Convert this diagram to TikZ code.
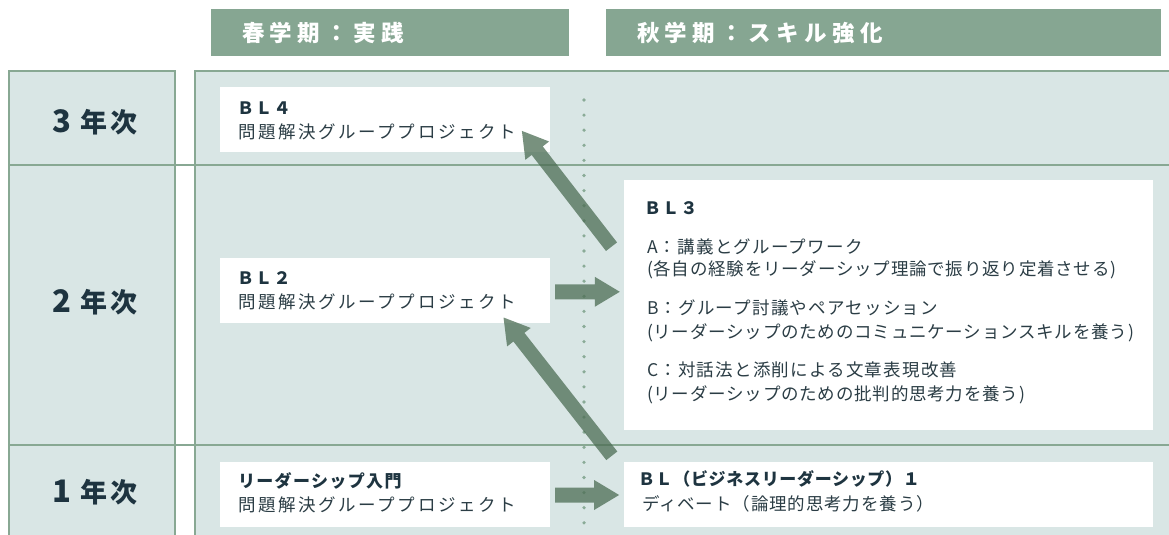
\documentclass[tikz,border=0pt]{standalone}
\usepackage{fontspec}
\newfontfamily\jpls[LetterSpace=15]{Noto Sans CJK JP}
\newfontfamily\jplm[LetterSpace=7]{Noto Sans CJK JP}
\newfontfamily\jplp[LetterSpace=4.5]{Noto Sans CJK JP}
\newfontfamily\jplq[LetterSpace=5]{Noto Sans CJK JP}
\newfontfamily\jphd[LetterSpace=24]{Noto Sans CJK JP}
\newfontfamily\jpyr[LetterSpace=12]{Noto Sans CJK JP}
\newfontfamily\jpti[LetterSpace=8]{Noto Sans CJK JP}
\newfontfamily\jptj[LetterSpace=4]{Noto Sans CJK JP}
\usetikzlibrary{calc}
\definecolor{hdrc}{HTML}{86A692}
\definecolor{gridc}{HTML}{88A893}
\definecolor{bgc}{HTML}{D9E6E5}
\definecolor{txtc}{HTML}{1E3440}
\definecolor{bodyc}{HTML}{2B3D45}
\definecolor{arrc}{HTML}{4C6D54}
\definecolor{dotc}{HTML}{8AAB97}
% fat block arrow: start, end, half shaft width, name prefix
\newcommand\fatarrow[4]{%
  \coordinate (#4h) at ($(#2)!25pt!(#1)$);
  \fill[arrowfill] ($(#1)!#3!90:(#2)$) -- ($(#4h)!#3!90:(#2)$) -- ($(#4h)!15pt!90:(#2)$) -- (#2)
    -- ($(#4h)!15pt!-90:(#2)$) -- ($(#4h)!#3!-90:(#2)$) -- ($(#1)!#3!-90:(#2)$) -- cycle;}
\begin{document}
\begin{tikzpicture}[x=1pt,y=-1pt,
  hdrbox/.style={fill=hdrc, draw=none, inner sep=0pt},
  hdrtext/.style={anchor=west, inner sep=0pt, text=white, font={\jphd\bfseries\fontsize{22.5}{25}\selectfont}},
  gridline/.style={draw=gridc, line width=2pt},
  yeartext/.style={inner sep=0pt, text=txtc, font={\jpyr\bfseries\fontsize{27}{30}\selectfont}},
  card/.style={fill=white, draw=none, inner sep=0pt},
  titletext/.style={anchor=west, inner sep=0pt, text=txtc, font={\jpti\bfseries\fontsize{17}{20}\selectfont}},
  titletextR/.style={anchor=west, inner sep=0pt, text=txtc, font={\jptj\bfseries\fontsize{17}{20}\selectfont}},
  bodyL/.style={anchor=west, inner sep=0pt, text=bodyc, font={\jpls\fontsize{17.5}{20}\selectfont}},
  bodyR/.style={anchor=west, inner sep=0pt, text=bodyc, font={\jplm\fontsize{17.5}{20}\selectfont}},
  bodyP/.style={anchor=west, inner sep=0pt, text=bodyc, font={\jplp\fontsize{17.5}{20}\selectfont}},
  bodyQ/.style={anchor=west, inner sep=0pt, text=bodyc, font={\jplq\fontsize{17.5}{20}\selectfont}},
  arrowfill/.style={fill=arrc, fill opacity=0.75, draw=none},
]
\clip (0,0) rectangle (1169,535);
\useasboundingbox (0,0) rectangle (1169,535);
\fill[white] (0,0) rectangle (1169,535);

% headers
\node[hdrbox, minimum width=358pt, minimum height=47pt] (h1) at (390,32.5) {};
\node[hdrbox, minimum width=555pt, minimum height=47pt] (h2) at (883.5,32.5) {};
\node[hdrtext] (h1t) at ($(h1.west)+(31,0)$) {春学期：実践};
\node[hdrtext] (h2t) at ($(h2.west)+(31,0)$) {秋学期：スキル強化};

% grid background
\fill[bgc] (9,71) rectangle (175,540);
\fill[bgc] (195,71) rectangle (1175,540);
\draw[gridline] (9,540) -- (9,71) -- (175,71) -- (175,540);
\draw[gridline] (195,540) -- (195,71) -- (1175,71);
\draw[gridline] (8,165) -- (1175,165);
\draw[gridline] (8,445) -- (1175,445);

% year labels
\node[yeartext] (y3) at (95,122) {{\fontsize{31}{31}\selectfont 3}\kern9pt 年次};
\node[yeartext] (y2) at (95,302) {{\fontsize{31}{31}\selectfont 2}\kern9pt 年次};
\node[yeartext] (y1) at (95,492) {{\fontsize{31}{31}\selectfont 1}\kern9pt 年次};

% dotted divider
\foreach \i in {0,...,29} \fill[dotc] (584,{100+15.1*\i}) circle (1.8pt);

% cards
\node[card, minimum width=330pt, minimum height=65pt] (bl4) at (385,119.5) {};
\node[card, minimum width=330pt, minimum height=65pt] (bl2) at (385,290.5) {};
\node[card, minimum width=330pt, minimum height=65pt] (bl1l) at (385,494.5) {};
\node[card, minimum width=529pt, minimum height=250pt] (bl3) at (888.5,305) {};
\node[card, minimum width=529pt, minimum height=65pt] (bl1r) at (888.5,494.5) {};

% card texts
\node[titletext] (bl4a) at ($(bl4.north west)+(17,21)$) {ＢＬ４};
\node[bodyL] (bl4b) at ($(bl4.north west)+(18,45.5)$) {問題解決グループプロジェクト};
\node[titletext] (bl2a) at ($(bl2.north west)+(17,20)$) {ＢＬ２};
\node[bodyL] (bl2b) at ($(bl2.north west)+(18,44)$) {問題解決グループプロジェクト};
\node[titletext] (bl1la) at ($(bl1l.north west)+(18,19)$) {リーダーシップ入門};
\node[bodyL] (bl1lb) at ($(bl1l.north west)+(18,43)$) {問題解決グループプロジェクト};

\node[titletext] (bl3a) at ($(bl3.north west)+(20,28.3)$) {ＢＬ３};
\node[bodyR] (bl3b) at ($(bl3.north west)+(23,66.7)$) {A：講義とグループワーク};
\node[bodyP] (bl3c) at ($(bl3.north west)+(23,90)$) {(各自の経験をリーダーシップ理論で振り返り定着させる)};
\node[bodyR] (bl3d) at ($(bl3.north west)+(23,128.3)$) {B：グループ討議やペアセッション};
\node[bodyP] (bl3e) at ($(bl3.north west)+(23,153.3)$) {(リーダーシップのためのコミュニケーションスキルを養う)};
\node[bodyR] (bl3f) at ($(bl3.north west)+(23,190)$) {C：対話法と添削による文章表現改善};
\node[bodyP] (bl3g) at ($(bl3.north west)+(23,215)$) {(リーダーシップのための批判的思考力を養う)};

\node[titletextR] (bl1ra) at ($(bl1r.north west)+(14,17)$) {ＢＬ（ビジネスリーダーシップ）１};
\node[bodyQ] (bl1rb) at ($(bl1r.north west)+(18,42)$) {ディベート（論理的思考力を養う）};

% arrows
\coordinate (a1s) at ($(bl3.west)+(-12.3,-58.3)$);
\coordinate (a1e) at ($(bl4.south east)+(-28.3,-21.3)$);
\coordinate (a2s) at ($(bl1r.north west)+(-12,-6)$);
\coordinate (a2e) at ($(bl2.south east)+(-46.7,-5.7)$);
\coordinate (a3s) at ($(bl2.east)+(5,1.3)$);
\coordinate (a3e) at ($(bl3.west |- bl2.east)+(-4,1.3)$);
\coordinate (a4s) at ($(bl1l.east)+(5,0.5)$);
\coordinate (a4e) at ($(bl1r.west)+(-4.7,0.5)$);
\fatarrow{a1s}{a1e}{7pt}{a1}
\fatarrow{a2s}{a2e}{7pt}{a2}
\fatarrow{a3s}{a3e}{7.5pt}{a3}
\fatarrow{a4s}{a4e}{7.5pt}{a4}
\end{tikzpicture}
\end{document}
